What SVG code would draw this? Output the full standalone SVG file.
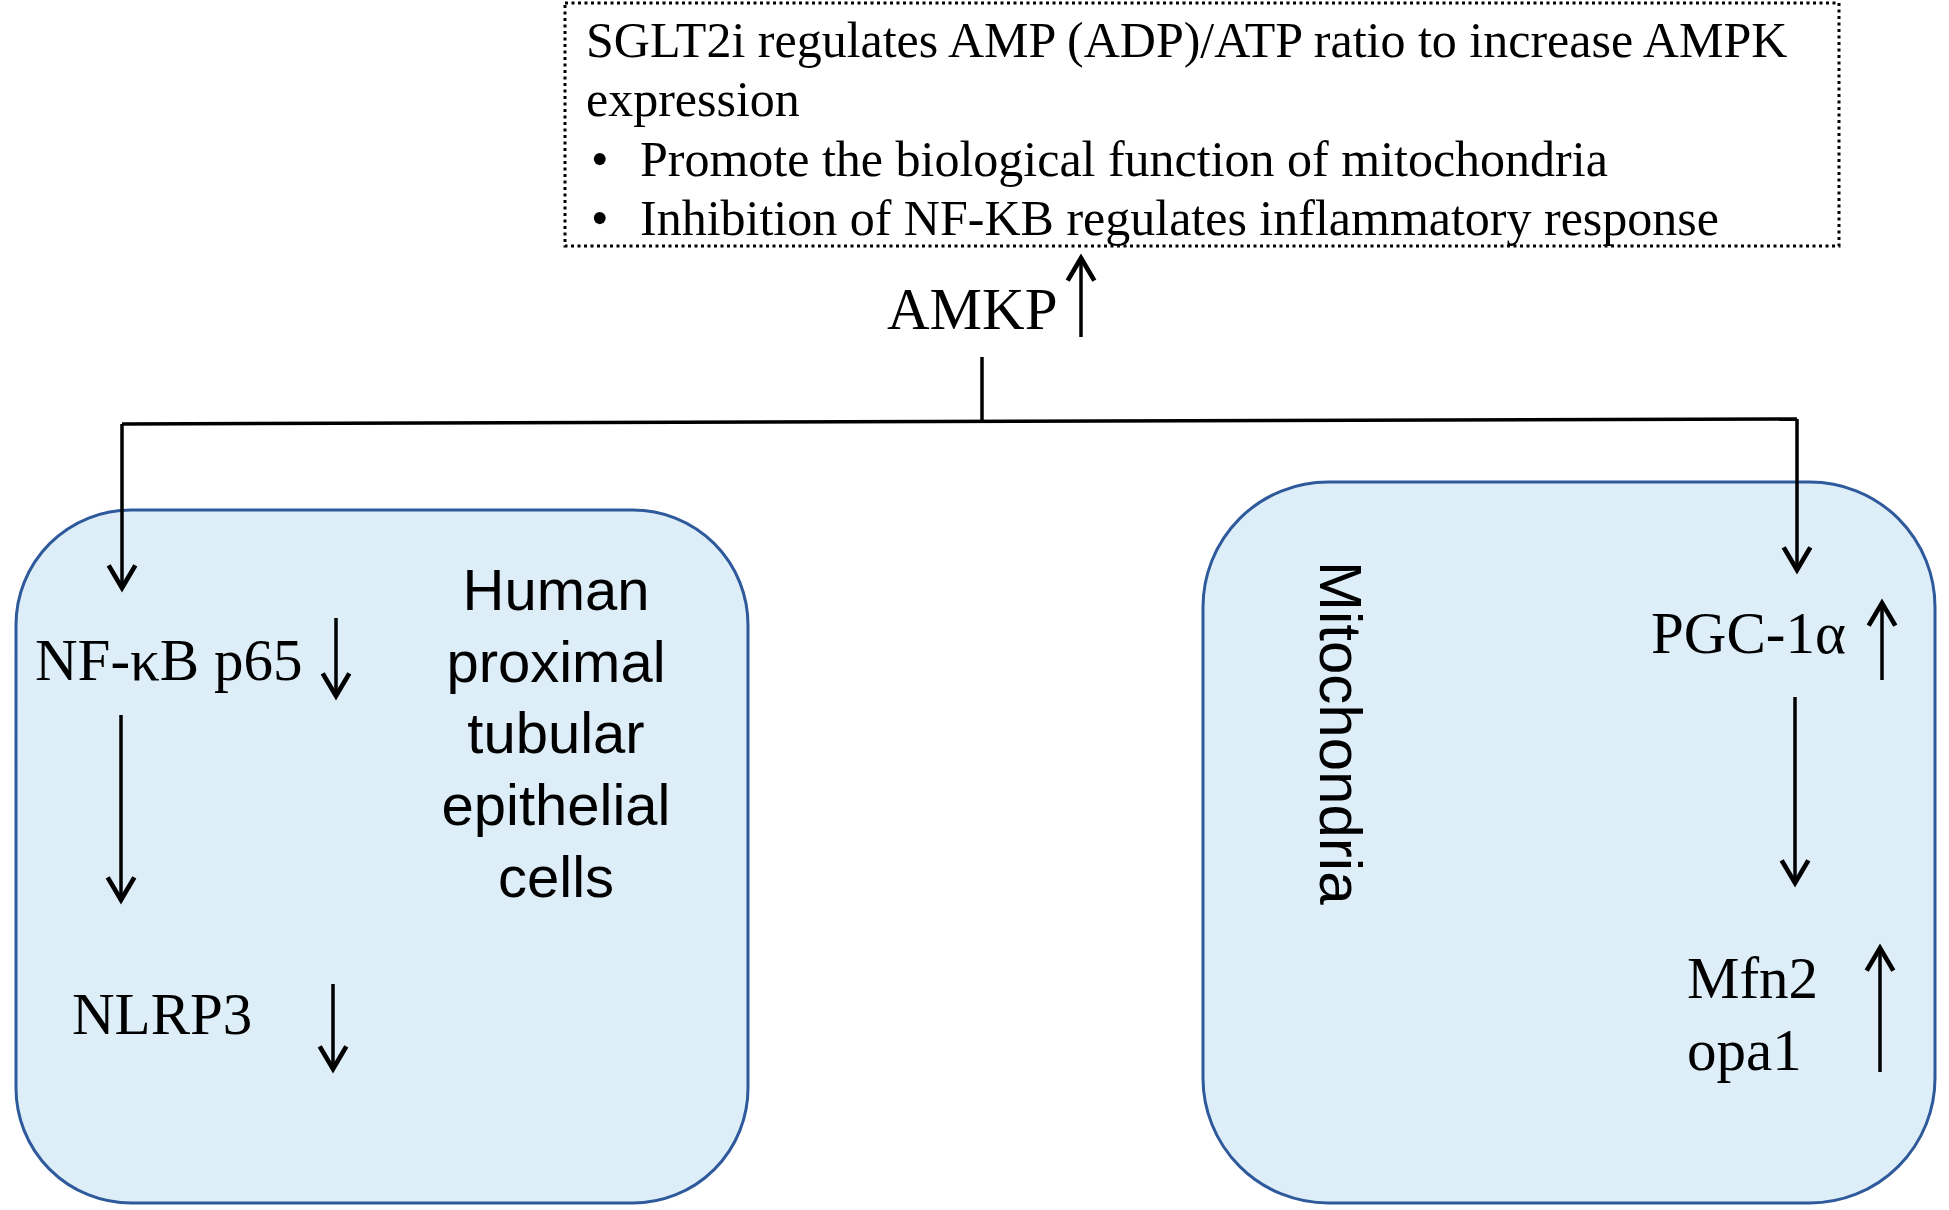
<svg xmlns="http://www.w3.org/2000/svg" width="1949" height="1210" viewBox="0 0 1949 1210">
<defs>
<style>
.serif{font-family:"Liberation Serif","Times New Roman",serif;fill:#000}
.sans{font-family:"Liberation Sans",Arial,sans-serif;fill:#000}
.mid{text-anchor:middle}
.box{fill:#DDEEF9;stroke:#2E5A9C;stroke-width:3}
.ln{stroke:#000;stroke-width:3.5;fill:none}
.arr{stroke:#000;stroke-width:3.5;fill:none;marker-end:url(#ah)}
</style>
<marker id="ah" markerUnits="userSpaceOnUse" markerWidth="40" markerHeight="40" viewBox="-25 -15 30 30" refX="0" refY="0" orient="auto">
<path d="M -17 -10 L 0 0 L -17 10" fill="none" stroke="#000" stroke-width="3.5" stroke-linejoin="miter"/>
</marker>
</defs>
<rect width="1949" height="1210" fill="#fff"/>

<g id="summary">
<rect x="565" y="3" width="1274" height="243" fill="none" stroke="#000" stroke-width="3" stroke-dasharray="3 3.5"/>
<text class="serif" font-size="50" x="586" y="57">SGLT2i regulates AMP (ADP)/ATP ratio to increase AMPK</text>
<text class="serif" font-size="50" x="586" y="116">expression</text>
<text class="serif" font-size="50" x="591" y="176">•</text>
<text class="serif" font-size="50" x="640" y="176">Promote the biological function of mitochondria</text>
<text class="serif" font-size="50" x="591" y="235">•</text>
<text class="serif" font-size="50" x="640" y="235">Inhibition of NF-KB regulates inflammatory response</text>
</g>

<g id="amkp">
<text class="serif" font-size="59" x="887" y="329">AMKP</text>
</g>

<g id="tubular-cells">
<rect class="box" x="16" y="510" width="732" height="693" rx="115" ry="115"/>
<text class="serif" font-size="59" x="35" y="680">NF-κB p65</text>
<text class="serif" font-size="59" x="72" y="1034">NLRP3</text>
<text class="sans mid" font-size="58" x="556" y="610">Human</text>
<text class="sans mid" font-size="58" x="556" y="682">proximal</text>
<text class="sans mid" font-size="58" x="556" y="753">tubular</text>
<text class="sans mid" font-size="58" x="556" y="825">epithelial</text>
<text class="sans mid" font-size="58" x="556" y="897">cells</text>
</g>

<g id="mitochondria">
<rect class="box" x="1203" y="482" width="732" height="721" rx="125" ry="125"/>
<text class="sans" font-size="60" transform="translate(1320,561) rotate(90)">Mitochondria</text>
<text class="serif" font-size="59" x="1651" y="653">PGC-1α</text>
<text class="serif" font-size="59" x="1687" y="998">Mfn2</text>
<text class="serif" font-size="59" x="1687" y="1070">opa1</text>
</g>

<g id="connectors">
<line class="arr" x1="1081" y1="337" x2="1081" y2="258"/>
<line class="ln" x1="982" y1="357" x2="982" y2="422"/>
<path class="ln" d="M 122 424 L 1797 419"/>
<line class="arr" x1="122" y1="424" x2="122" y2="588"/>
<line class="arr" x1="1797" y1="419" x2="1797" y2="570"/>
<line class="arr" x1="336" y1="618" x2="336" y2="696"/>
<line class="arr" x1="121" y1="715" x2="121" y2="900"/>
<line class="arr" x1="333" y1="984" x2="333" y2="1069"/>
<line class="arr" x1="1882" y1="680" x2="1882" y2="603"/>
<line class="arr" x1="1795" y1="697" x2="1795" y2="883"/>
<line class="arr" x1="1880" y1="1072" x2="1880" y2="948"/>
</g>
</svg>
